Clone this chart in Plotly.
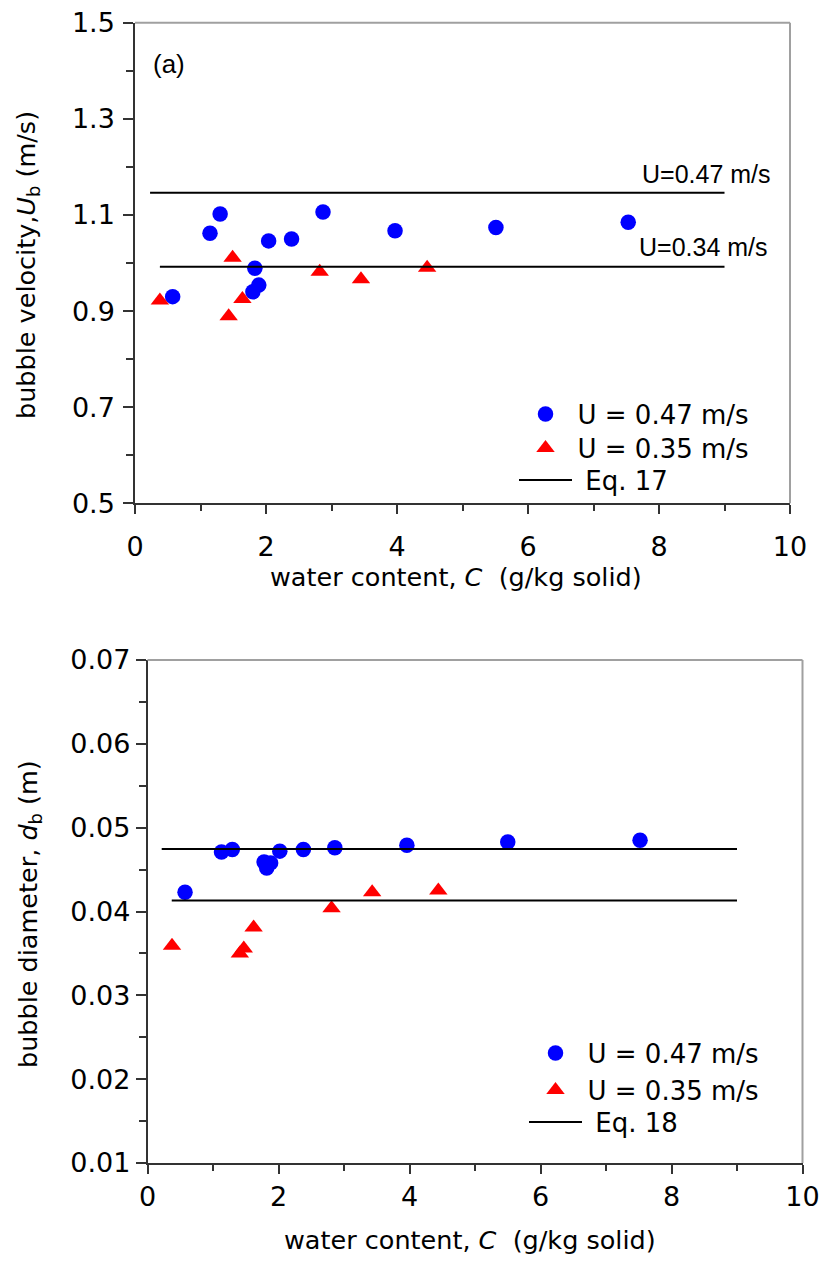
import plotly.graph_objects as go

# ---------------- data ----------------
# (a) bubble velocity
top_blue_x = [0.575, 1.145, 1.30, 1.83, 1.80, 1.89, 2.04, 2.39, 2.87, 3.97, 5.51, 7.53]
top_blue_y = [0.930, 1.062, 1.102, 0.989, 0.940, 0.954, 1.046, 1.050, 1.106, 1.067, 1.074, 1.085]
top_red_x = [0.38, 1.49, 1.64, 1.43, 2.82, 3.45, 4.46]
top_red_y = [0.922, 1.011, 0.925, 0.889, 0.982, 0.966, 0.990]
top_eq_xstart = [0.23, 0.38]
top_eq_y = [1.146, 0.992]
eq_xend = 9.0

# (b) bubble diameter
bot_blue_x = [0.573, 1.13, 1.295, 1.78, 1.82, 1.88, 2.02, 2.38, 2.86, 3.96, 5.50, 7.52]
bot_blue_y = [0.0423, 0.0471, 0.0474, 0.0459, 0.0452, 0.0458, 0.0472, 0.0474, 0.0476, 0.0479, 0.0483, 0.0485]
bot_red_x = [0.374, 1.41, 1.47, 1.62, 2.81, 3.43, 4.44]
bot_red_y = [0.0359, 0.0350, 0.0356, 0.0381, 0.0404, 0.0423, 0.0425]
bot_eq_xstart = [0.217, 0.37]
bot_eq_y = [0.04746, 0.0413]

x_ticks = [0, 2, 4, 6, 8, 10]
top_y_ticks = [0.5, 0.7, 0.9, 1.1, 1.3, 1.5]
bot_y_ticks = [0.01, 0.02, 0.03, 0.04, 0.05, 0.06, 0.07]

FONT = "DejaVu Sans, sans-serif"
FONT2 = "Liberation Sans, Arial, sans-serif"
W, H = 826, 1281


def seg(xs, ys, xe):
    X, Y = [], []
    for x0, y0 in zip(xs, ys):
        X += [x0, xe, None]
        Y += [y0, y0, None]
    return X, Y


fig = go.Figure()

# top subplot
fig.add_trace(go.Scatter(x=top_blue_x, y=top_blue_y, mode="markers", name="U = 0.47 m/s",
                         marker=dict(symbol="circle", size=15.5, color="#0000ff"),
                         xaxis="x", yaxis="y", legend="legend"))
fig.add_trace(go.Scatter(x=top_red_x, y=top_red_y, mode="markers", name="U = 0.35 m/s",
                         marker=dict(symbol="triangle-up", size=16, color="#ff0000"),
                         xaxis="x", yaxis="y", legend="legend3"))
lx, ly = seg(top_eq_xstart, top_eq_y, eq_xend)
fig.add_trace(go.Scatter(x=lx, y=ly, mode="lines", name=" Eq. 17",
                         line=dict(color="black", width=2),
                         xaxis="x", yaxis="y", legend="legend5"))

# bottom subplot
fig.add_trace(go.Scatter(x=bot_blue_x, y=bot_blue_y, mode="markers", name="U = 0.47 m/s",
                         marker=dict(symbol="circle", size=15.5, color="#0000ff"),
                         xaxis="x2", yaxis="y2", legend="legend2"))
fig.add_trace(go.Scatter(x=bot_red_x, y=bot_red_y, mode="markers", name="U = 0.35 m/s",
                         marker=dict(symbol="triangle-up", size=16, color="#ff0000"),
                         xaxis="x2", yaxis="y2", legend="legend4"))
lx, ly = seg(bot_eq_xstart, bot_eq_y, eq_xend)
fig.add_trace(go.Scatter(x=lx, y=ly, mode="lines", name=" Eq. 18",
                         line=dict(color="black", width=2),
                         xaxis="x2", yaxis="y2", legend="legend6"))

AX = "#333333"
tickfont = dict(family=FONT, size=27, color="black")
titlefont = dict(family=FONT, size=25.5, color="black")


def xax(domain, anchor, lblstand):
    return dict(domain=domain, anchor=anchor, range=[0, 10], tickvals=x_ticks,
                ticks="outside", ticklen=9, tickwidth=1.5, tickcolor=AX,
                showline=True, linecolor=AX, linewidth=1.5, showgrid=False, zeroline=False,
                tickfont=tickfont, automargin=False, ticklabelstandoff=lblstand,
                minor=dict(dtick=1, tick0=0, ticks="outside", ticklen=6, tickwidth=1.5, tickcolor=AX, showgrid=False))


def yax(domain, anchor, rng, tv, minor_dt, fmt, lblstand):
    return dict(domain=domain, anchor=anchor, range=rng, tickvals=tv, tickformat=fmt,
                ticks="outside", ticklen=10, tickwidth=1.5, tickcolor=AX,
                showline=True, linecolor=AX, linewidth=1.5, showgrid=False, zeroline=False,
                tickfont=tickfont, automargin=False, ticklabelstandoff=lblstand,
                minor=dict(dtick=minor_dt, tick0=rng[0], ticks="outside", ticklen=7, tickwidth=1.5, tickcolor=AX, showgrid=False))


top_xd = [135 / W, 790 / W]
top_yd = [1 - 503.3 / H, 1 - 22.7 / H]
bot_xd = [147.5 / W, 802.5 / W]
bot_yd = [1 - 1163 / H, 1 - 660 / H]


def leg(xpx, ypx, iw):
    return dict(x=xpx / W, y=1 - ypx / H, xanchor="left", yanchor="middle",
                bgcolor="rgba(0,0,0,0)", itemwidth=iw,
                font=dict(family=FONT, size=26, color="black"))


fig.update_layout(
    width=W, height=H, autosize=False,
    margin=dict(l=0, r=0, t=0, b=0, autoexpand=False),
    paper_bgcolor="white", plot_bgcolor="white",
    font=dict(family=FONT, color="black"),
    xaxis=xax(top_xd, "y", 10),
    yaxis=yax(top_yd, "x", [0.5, 1.5], top_y_ticks, 0.1, ".1f", 3),
    xaxis2=xax(bot_xd, "y2", 0),
    yaxis2=yax(bot_yd, "x2", [0.01, 0.07], bot_y_ticks, 0.005, ".2f", 0),
    legend=leg(513.5, 414, 54),
    legend3=leg(513.5, 448, 54),
    legend5=leg(514, 480, 53),
    legend2=leg(523.5, 1053, 54),
    legend4=leg(523.5, 1090, 54),
    legend6=leg(524, 1122, 53),
    showlegend=True,
)

# gray top/right frame
for xr, yr in (("x domain", "y domain"), ("x2 domain", "y2 domain")):
    fig.add_shape(type="line", xref=xr, yref=yr, x0=0, x1=1, y0=1, y1=1,
                  line=dict(color="#a0a0a0", width=2))
    fig.add_shape(type="line", xref=xr, yref=yr, x0=1, x1=1, y0=0, y1=1,
                  line=dict(color="#a0a0a0", width=2))

# axis titles (as paper annotations for exact placement)
xtitle = "water content, <i>C</i>  (g/kg solid)"
fig.add_annotation(x=456 / W, y=1 - 577 / H, xref="paper", yref="paper", text=xtitle,
                   showarrow=False, xanchor="center", yanchor="middle", font=titlefont)
fig.add_annotation(x=470 / W, y=1 - 1240 / H, xref="paper", yref="paper", text=xtitle,
                   showarrow=False, xanchor="center", yanchor="middle", font=titlefont)
fig.add_annotation(x=27 / W, y=1 - 265 / H, xref="paper", yref="paper",
                   text="bubble velocity,<i>U</i><sub>b</sub> (m/s)", textangle=-90,
                   showarrow=False, xanchor="center", yanchor="middle", font=titlefont)
fig.add_annotation(x=29 / W, y=1 - 914 / H, xref="paper", yref="paper",
                   text="bubble diameter, <i>d</i><sub>b</sub> (m)", textangle=-90,
                   showarrow=False, xanchor="center", yanchor="middle", font=titlefont)

annfont = dict(family=FONT2, size=25, color="black")
fig.add_annotation(x=9.74, y=1.185, xref="x", yref="y", text="U=0.47 m/s",
                   showarrow=False, xanchor="right", yanchor="middle", font=annfont)
fig.add_annotation(x=9.69, y=1.033, xref="x", yref="y", text="U=0.34 m/s",
                   showarrow=False, xanchor="right", yanchor="middle", font=annfont)
fig.add_annotation(x=0.52, y=1.414, xref="x", yref="y", text="(a)",
                   showarrow=False, xanchor="center", yanchor="middle", font=dict(family=FONT2, size=26, color="black"))

fig.write_html("out.html")
